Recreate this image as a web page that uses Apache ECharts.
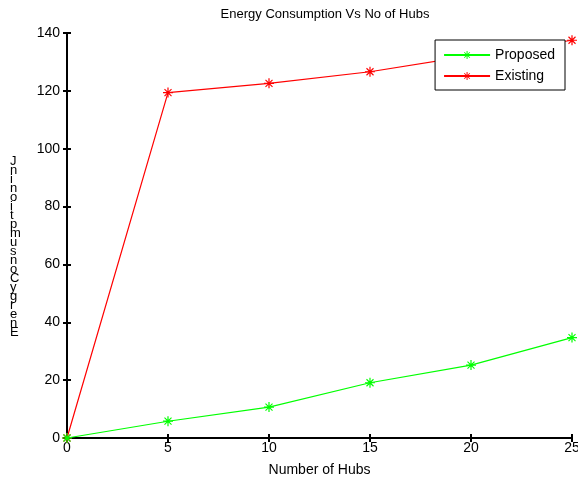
<!DOCTYPE html>
<html>
<head>
<meta charset="utf-8">
<script src="https://cdn.jsdelivr.net/npm/echarts@6/dist/echarts.min.js"></script>
<style>
html, body { margin: 0; padding: 0; background: #fff; }
#chart { width: 578px; height: 481px; }
</style>
</head>
<body>
<div id="chart"></div>
<script>
// values
var hubs = [0, 5, 10, 15, 20, 25];
var proposed = [0, 5.8, 10.7, 19.1, 25.2, 34.7];
var existing = [0, 119.4, 122.6, 126.6, 132.2, 137.5];
var seriesNames = ['Proposed', 'Existing'];
var yLabel = 'Energy Consumption in J';

// asterisk marker like the matlab '*'
var star = 'path://M-0.6,-5L0.6,-5L0.6,5L-0.6,5Z M-5,-0.6L5,-0.6L5,0.6L-5,0.6Z ' +
    'M-3.9,-3.1L-3.1,-3.9L3.9,3.1L3.1,3.9Z M3.1,-3.9L3.9,-3.1L-3.1,3.9L-3.9,3.1Z';

function pairs(ys) {
    return hubs.map(function (x, i) { return [x, ys[i]]; });
}

var chart = echarts.init(document.getElementById('chart'));
var font = 'Liberation Sans, Arial, sans-serif';
var stacked = yLabel.replace(/ /g, '').split('').reverse().join('\n');

var option = {
    animation: false,
    textStyle: { fontFamily: font },
    title: {
        text: 'Energy Consumption Vs No of Hubs',
        left: 320,
        textAlign: 'center',
        top: 3,
        textStyle: { fontSize: 13, fontWeight: 'normal', color: '#000', fontFamily: font }
    },
    grid: { left: 67, right: 6, top: 33, bottom: 43, outerBoundsMode: 'none', containLabel: false },
    legend: {
        orient: 'vertical',
        right: 13,
        top: 40,
        width: 110,
        padding: [8, 10, 7, 8],
        itemGap: 7,
        itemWidth: 46,
        itemHeight: 10,
        backgroundColor: '#fff',
        borderColor: '#000',
        borderWidth: 1,
        textStyle: { fontSize: 14, color: '#000', fontFamily: font },
        data: seriesNames
    },
    xAxis: [{
        type: 'value',
        min: 0, max: 25, interval: 5,
        name: 'Number of Hubs',
        nameLocation: 'middle',
        nameGap: 25,
        nameTextStyle: { fontSize: 14, color: '#000' },
        axisLine: { lineStyle: { color: '#000', width: 2 } },
        axisTick: { inside: true, length: 4, lineStyle: { color: '#000', width: 2 } },
        axisLabel: { fontSize: 14, color: '#000', margin: 3 },
        splitLine: { show: false }
    }, {
        type: 'value',
        position: 'top',
        min: 0, max: 25, interval: 5,
        axisLine: { show: true, lineStyle: { color: '#000', width: 2 } },
        axisTick: { inside: true, length: 4, lineStyle: { color: '#000', width: 2 } },
        axisLabel: { show: false },
        splitLine: { show: false }
    }],
    yAxis: [{
        type: 'value',
        min: 0, max: 140, interval: 20,
        axisLine: { show: true, lineStyle: { color: '#000', width: 2 } },
        axisTick: { show: true, inside: true, length: 4, lineStyle: { color: '#000', width: 2 } },
        axisLabel: { fontSize: 14, color: '#000', margin: 7 },
        splitLine: { show: false }
    }, {
        type: 'value',
        position: 'right',
        min: 0, max: 140, interval: 20,
        axisLine: { show: true, lineStyle: { color: '#000', width: 2 } },
        axisTick: { show: true, inside: true, length: 4, lineStyle: { color: '#000', width: 2 } },
        axisLabel: { show: false },
        splitLine: { show: false }
    }],
    graphic: [{
        type: 'text',
        left: 10,
        top: 155,
        style: {
            text: stacked,
            fontSize: 13,
            lineHeight: 9,
            fill: '#000',
            fontFamily: font,
            align: 'center'
        }
    }],
    series: [{
        name: seriesNames[0],
        type: 'line',
        data: pairs(proposed),
        color: '#00ff00',
        symbol: star,
        symbolSize: 10,
        showAllSymbol: true,
        clip: false,
        lineStyle: { color: '#00ff00', width: 1.2 },
        itemStyle: { color: '#00ff00' },
        z: 3
    }, {
        name: seriesNames[1],
        type: 'line',
        data: pairs(existing),
        color: '#ff0000',
        symbol: star,
        symbolSize: 10,
        showAllSymbol: true,
        clip: false,
        lineStyle: { color: '#ff0000', width: 1.2 },
        itemStyle: { color: '#ff0000' },
        z: 2
    }]
};
option && chart.setOption(option);
</script>
</body>
</html>
